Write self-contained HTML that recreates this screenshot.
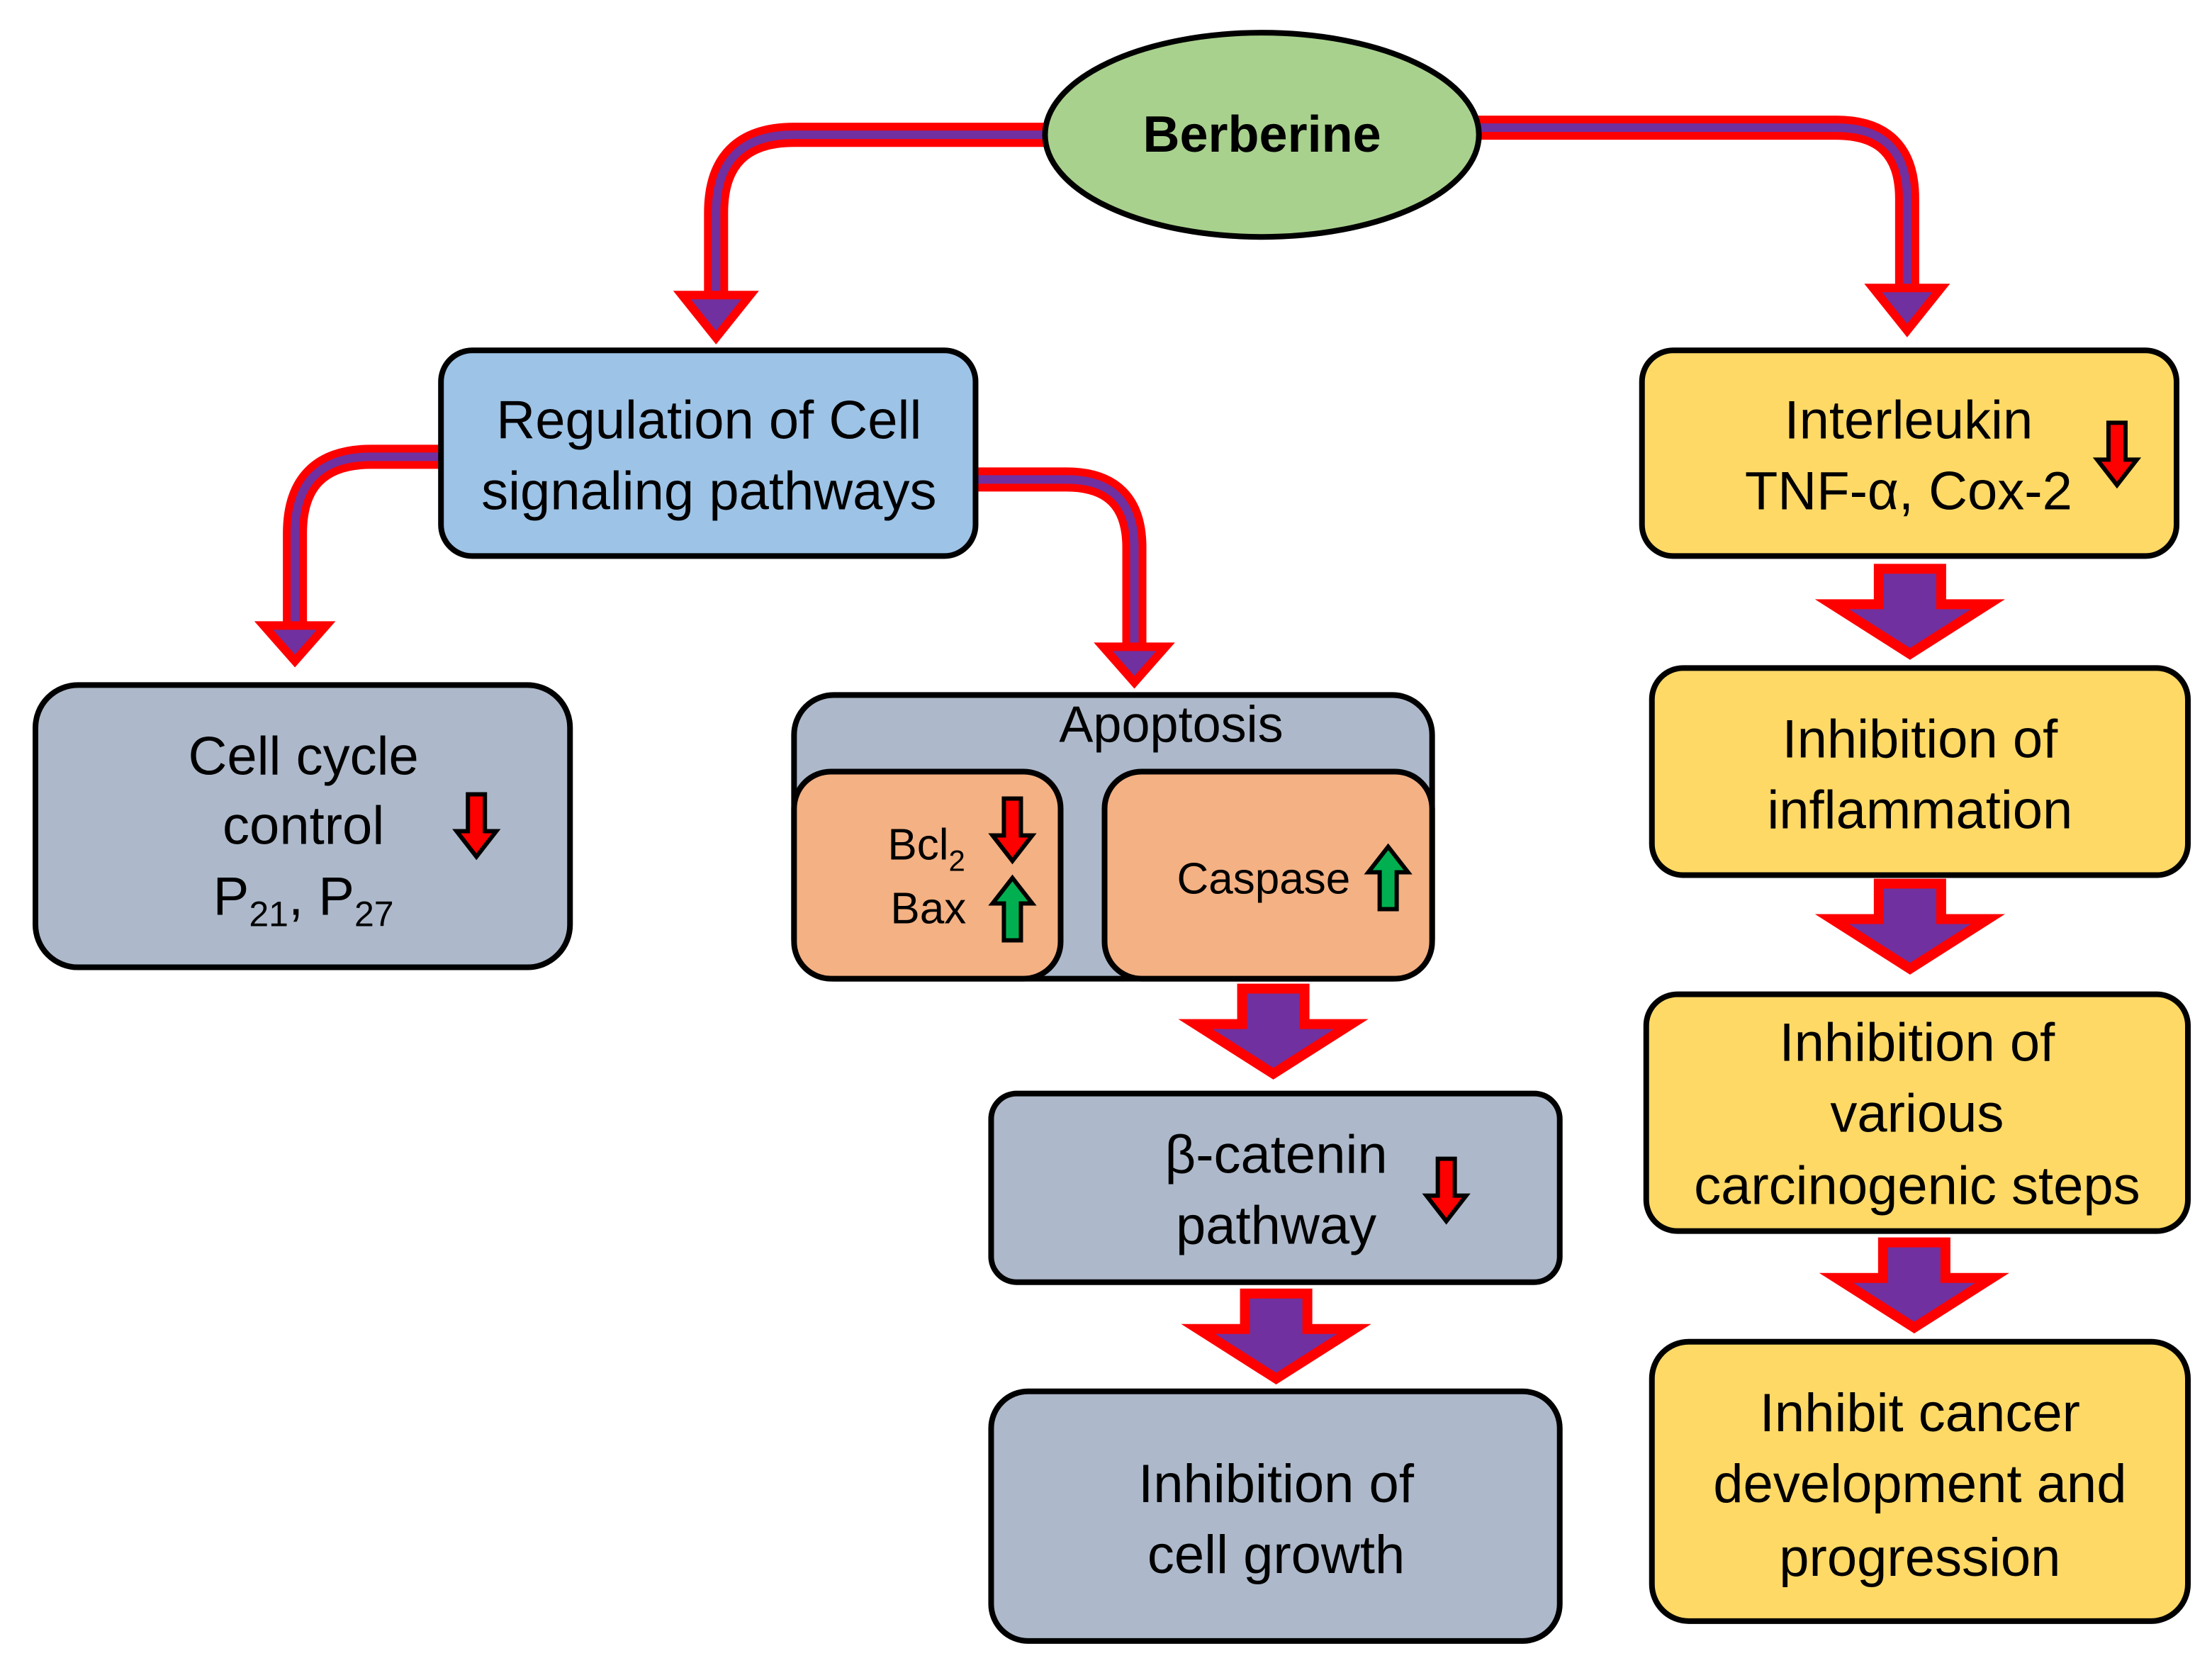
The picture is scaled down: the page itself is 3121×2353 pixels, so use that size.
<!DOCTYPE html>
<html><head><meta charset="utf-8"><style>html,body{margin:0;padding:0;background:#fff}svg{display:block}</style></head>
<body>
<svg width="3121" height="2353" viewBox="0 0 1560 1176" xmlns="http://www.w3.org/2000/svg" font-family="'Liberation Sans', 'DejaVu Sans', sans-serif">
<defs>
<g id="blk"><polygon points="-22,0 22,0 22,25 55,25 0,60 -55,25 -22,25" fill="#7030a0" stroke="#ff0000" stroke-width="7" stroke-linejoin="miter"/></g>
<g id="rd"><polygon points="-6,-22 6,-22 6,4 14,4 0,22 -14,4 -6,4" fill="#ff0000" stroke="#000" stroke-width="3"/></g>
<g id="gu"><polygon points="-6,22 6,22 6,-4 14,-4 0,-22 -14,-4 -6,-4" fill="#00b050" stroke="#000" stroke-width="3"/></g>
</defs>
<g fill="none" stroke-linejoin="round">
<path d="M738,95 H560 Q505,95 505,150 V212" stroke="#ff0000" stroke-width="17"/>
<path d="M738,95 H560 Q505,95 505,150 V212" stroke="#7030a0" stroke-width="6"/>
<path d="M1042,90 H1295 Q1345,90 1345,140 V207" stroke="#ff0000" stroke-width="17"/>
<path d="M1042,90 H1295 Q1345,90 1345,140 V207" stroke="#7030a0" stroke-width="6"/>
<path d="M311,322 H262 Q208,322 208,376 V444" stroke="#ff0000" stroke-width="17"/>
<path d="M311,322 H262 Q208,322 208,376 V444" stroke="#7030a0" stroke-width="6"/>
<path d="M688,338 H752 Q800,338 800,386 V459" stroke="#ff0000" stroke-width="17"/>
<path d="M688,338 H752 Q800,338 800,386 V459" stroke="#7030a0" stroke-width="6"/>
</g>
<g fill="#7030a0" stroke="#ff0000" stroke-width="6">
<polygon points="481,208 529,208 505,238"/>
<polygon points="1321,203 1369,203 1345,233"/>
<polygon points="186,441 230,441 208,466"/>
<polygon points="778,456 822,456 800,481"/>
</g>
<ellipse cx="890" cy="95" rx="153" ry="72" fill="#a9d18e" stroke="#000" stroke-width="4"/>
<text x="890" y="107" font-size="36" font-weight="bold" text-anchor="middle">Berberine</text>
<g stroke="#000" stroke-width="4">
<rect x="311" y="247" width="377" height="145" rx="22" fill="#9dc3e6"/>
<rect x="25" y="483" width="377" height="199" rx="30" fill="#adb9ca"/>
<rect x="560" y="490" width="450" height="200" rx="28" fill="#adb9ca"/>
<rect x="560" y="544" width="188" height="146" rx="26" fill="#f4b183"/>
<rect x="779" y="544" width="231" height="146" rx="26" fill="#f4b183"/>
<rect x="699" y="771" width="401" height="133" rx="18" fill="#adb9ca"/>
<rect x="699" y="981" width="401" height="176" rx="26" fill="#adb9ca"/>
<rect x="1158" y="247" width="377" height="145" rx="22" fill="#ffd966"/>
<rect x="1165" y="471" width="378" height="146" rx="22" fill="#ffd966"/>
<rect x="1161" y="701" width="382" height="167" rx="22" fill="#ffd966"/>
<rect x="1165" y="946" width="378" height="197" rx="26" fill="#ffd966"/>
</g>
<use href="#blk" x="898" y="697"/>
<use href="#blk" x="900" y="912"/>
<use href="#blk" x="1347" y="401"/>
<use href="#blk" x="1347" y="623"/>
<use href="#blk" x="1350" y="876"/>
<g font-size="38" text-anchor="middle" fill="#000">
<text x="500" y="309">Regulation of Cell</text>
<text x="500" y="359">signaling pathways</text>
<text x="214" y="546">Cell cycle</text>
<text x="214" y="595">control</text>
<text x="214" y="645">P<tspan font-size="25" dy="8">21</tspan><tspan dy="-8">, P</tspan><tspan font-size="25" dy="8">27</tspan></text>
<text x="826" y="523" font-size="36">Apoptosis</text>
<text x="900" y="827">β-catenin</text>
<text x="900" y="877">pathway</text>
<text x="900" y="1059">Inhibition of</text>
<text x="900" y="1109">cell growth</text>
<text x="1346" y="309">Interleukin</text>
<text x="1346" y="359">TNF-α, Cox-2</text>
<text x="1354" y="534">Inhibition of</text>
<text x="1354" y="584">inflammation</text>
<text x="1352" y="748">Inhibition of</text>
<text x="1352" y="798">various</text>
<text x="1352" y="849">carcinogenic steps</text>
<text x="1354" y="1009">Inhibit cancer</text>
<text x="1354" y="1059">development and</text>
<text x="1354" y="1111">progression</text>
</g>
<g font-size="31" fill="#000">
<text x="626" y="606">Bcl<tspan font-size="21" dy="8">2</tspan></text>
<text x="628" y="651">Bax</text>
<text x="830" y="630">Caspase</text>
</g>
<use href="#rd" x="336" y="582"/>
<use href="#rd" x="714" y="585"/>
<use href="#gu" x="714" y="641"/>
<use href="#gu" x="979" y="619"/>
<use href="#rd" x="1020" y="839"/>
<use href="#rd" x="1493" y="320"/>
</svg>
</body></html>
